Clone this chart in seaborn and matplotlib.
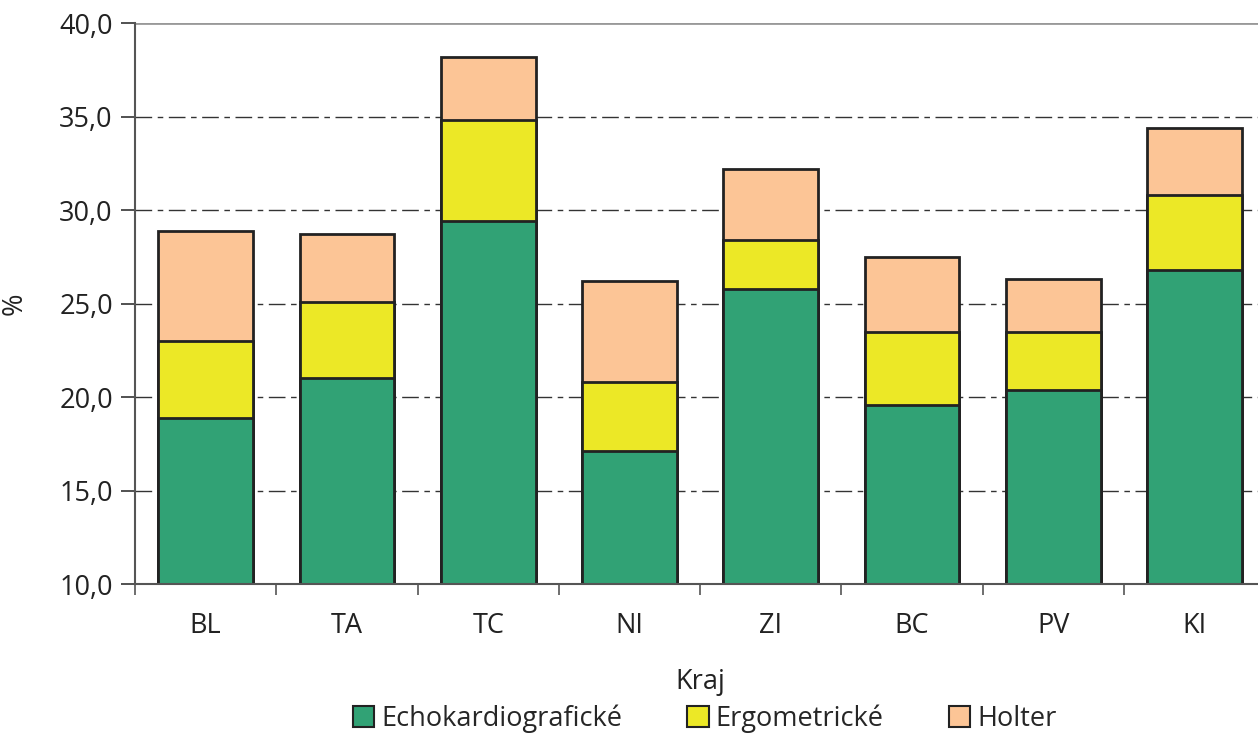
import numpy as np
import pandas as pd
import matplotlib
matplotlib.use("Agg")
import matplotlib.pyplot as plt
import seaborn as sns
from matplotlib.patches import Patch
from matplotlib.ticker import FuncFormatter, FixedLocator

# data (%)
kraje = ["BL", "TA", "TC", "NI", "ZI", "BC", "PV", "KI"]
echo = [18.9, 21.0, 29.4, 17.1, 25.8, 19.6, 20.4, 26.8]
ergo = [4.1, 4.1, 5.4, 3.7, 2.6, 3.9, 3.1, 4.0]
holter = [5.9, 3.6, 3.4, 5.4, 3.8, 4.0, 2.8, 3.6]

series = ["Echokardiografické", "Ergometrické", "Holter"]
colors = ["#31A275", "#ECE826", "#FCC596"]

df = pd.DataFrame({"Kraj": kraje, "echo": echo, "ergo": ergo, "holter": holter})
df["c1"] = df["echo"]
df["c2"] = df["echo"] + df["ergo"]
df["c3"] = df["c2"] + df["holter"]

sns.set_style("white")
plt.rcParams["font.family"] = ["Open Sans", "DejaVu Sans"]

fig = plt.figure(figsize=(12.58, 7.35), dpi=100)
ax = fig.add_axes([0.1073, 0.2054, 0.8985, 0.7633])

# grid
for y in [15, 20, 25, 30, 35]:
    ax.axhline(y, color="#333333", lw=1.0, dashes=(12, 4, 4, 4), zorder=0)
ax.axhline(40, color="#999999", lw=2, zorder=0)

# stacked bars: draw cumulative totals from the top down
for col, c in zip(["c3", "c2", "c1"], colors[::-1]):
    sns.barplot(data=df, x="Kraj", y=col, color=c, width=0.67,
                edgecolor="#222222", linewidth=2, saturation=1, ax=ax, zorder=2)

ax.set_ylim(10, 40)
ax.set_xlim(-0.5, 7.5)
ax.yaxis.set_major_locator(FixedLocator([10, 15, 20, 25, 30, 35, 40]))
ax.yaxis.set_major_formatter(FuncFormatter(lambda v, p: f"{v:.1f}".replace(".", ",")))

for s in ["top", "right"]:
    ax.spines[s].set_visible(False)
for s in ["left", "bottom"]:
    ax.spines[s].set_color("#555555")
    ax.spines[s].set_linewidth(1.5)

ax.tick_params(axis="y", which="major", length=10, width=1.2, color="#333333",
               labelsize=19.5, pad=6, left=True, labelcolor="#222222")
ax.tick_params(axis="x", which="major", length=0, labelsize=19.5, pad=20,
               labelcolor="#222222")
ax.set_xticks(np.arange(-0.5, 8, 1), minor=True)
ax.tick_params(axis="x", which="minor", length=8, width=1.2, color="#555555", bottom=True)

ax.set_xlabel("Kraj", fontsize=19.5, labelpad=20, color="#222222")
ax.set_ylabel("%", fontsize=19.5, labelpad=22, color="#222222")

handles = [Patch(facecolor=c, edgecolor="#222222", linewidth=1.5) for c in colors]
fig.legend(handles, series, loc="center", bbox_to_anchor=(0.56, 0.022), ncol=3,
           frameon=False, fontsize=19.5, handlelength=0.8, handleheight=0.8,
           handletextpad=0.25, columnspacing=2.4)

fig.savefig("out.png", dpi=100)
